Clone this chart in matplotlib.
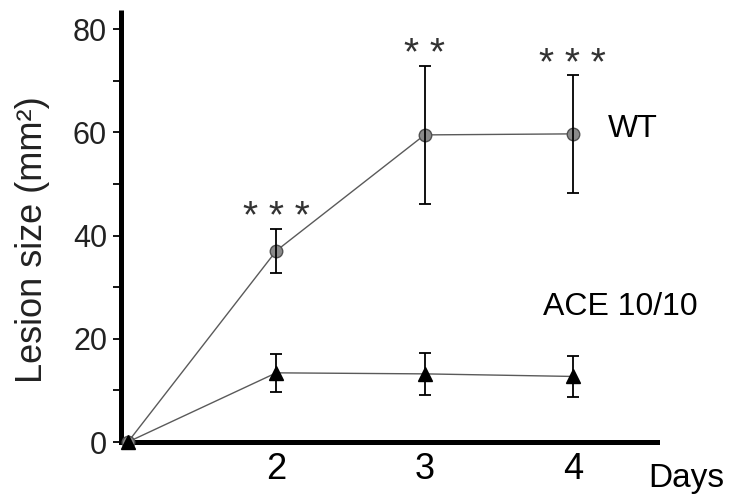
import matplotlib
matplotlib.use("Agg")
import matplotlib.pyplot as plt

plt.rcParams['font.family'] = ['Liberation Sans', 'DejaVu Sans']

# data
days = [1, 2, 3, 4]
wt_mean = [0, 37.05, 59.5, 59.7]
wt_err = [0, 4.25, 13.4, 11.4]
ace_mean = [0, 13.4, 13.2, 12.7]
ace_err = [0, 3.7, 4.0, 3.9]
sig_days = [2, 3, 4]
sig_marks = ["* * *", "* *", "* * *"]
x_ticks = [2, 3, 4]
y_ticks = [0, 20, 40, 60, 80]
y_minor = [10, 30, 50, 70]

fig = plt.figure(figsize=(7.37, 5.01), dpi=100)
ax = fig.add_axes([121 / 737, 59 / 501, 536 / 737, 432 / 501])

# connecting lines
ax.plot(days, wt_mean, color='#5a5a5a', lw=1.0, zorder=2)
ax.plot(days, ace_mean, color='#5a5a5a', lw=1.0, zorder=2)

# markers (not clipped so the day-1 points sit on top of the axes)
ax.plot(days, wt_mean, 'o', ms=9, mfc='#8a8a8a', mec='#505050', mew=1.0,
        zorder=6, clip_on=False)
ax.plot(days, ace_mean, '^', ms=10, mfc='black', mec='black',
        zorder=7, clip_on=False)

# error bars (skip day 1, no error there)
ax.errorbar(days[1:], wt_mean[1:], yerr=wt_err[1:], fmt='none', ecolor='black',
            elinewidth=1.3, capsize=4.5, capthick=1.3, zorder=8)
ax.errorbar(days[1:], ace_mean[1:], yerr=ace_err[1:], fmt='none', ecolor='black',
            elinewidth=1.3, capsize=4.5, capthick=1.3, zorder=8)

# significance stars above WT error bars
for d, s in zip(sig_days, sig_marks):
    i = days.index(d)
    ax.annotate(s, xy=(d, wt_mean[i] + wt_err[i]), xytext=(0, -5.5),
                textcoords='offset points', ha='center', va='bottom',
                fontsize=28, color='#333333')

# series labels
ax.annotate("WT", xy=(days[-1], wt_mean[-1]), xytext=(25, 3.5),
            textcoords='offset points', ha='left', va='center', fontsize=23)
ax.annotate("ACE 10/10", xy=(days[-1], ace_mean[-1]), xytext=(-21.5, 50),
            textcoords='offset points', ha='left', va='center', fontsize=23)

ax.set_xlim(0.953, 4.567)
ax.set_ylim(0, 83.7)

for side in ['top', 'right']:
    ax.spines[side].set_visible(False)
for side in ['left', 'bottom']:
    ax.spines[side].set_linewidth(3.6)
ax.spines['left'].set_capstyle('butt')

ax.set_xticks(x_ticks)
ax.set_xticklabels([str(t) for t in x_ticks])
ax.set_yticks(y_ticks)
ax.set_yticks(y_minor, minor=True)
ax.tick_params(axis='x', length=0, pad=7, labelsize=26)
ax.tick_params(axis='y', which='both', direction='out', length=6, width=1.3,
               pad=4, labelsize=22, labelcolor='#222222')

ax.annotate("Days", xy=(1, 0), xycoords='axes fraction', xytext=(-6, -32.4),
            textcoords='offset points', ha='left', va='baseline', fontsize=24,
            annotation_clip=False)

fig.text(33 / 737, 1 - 240 / 501, "Lesion size (mm²)", rotation=90,
         ha='center', va='center', fontsize=26, color='#222222')

fig.savefig('out.png', dpi=100)
